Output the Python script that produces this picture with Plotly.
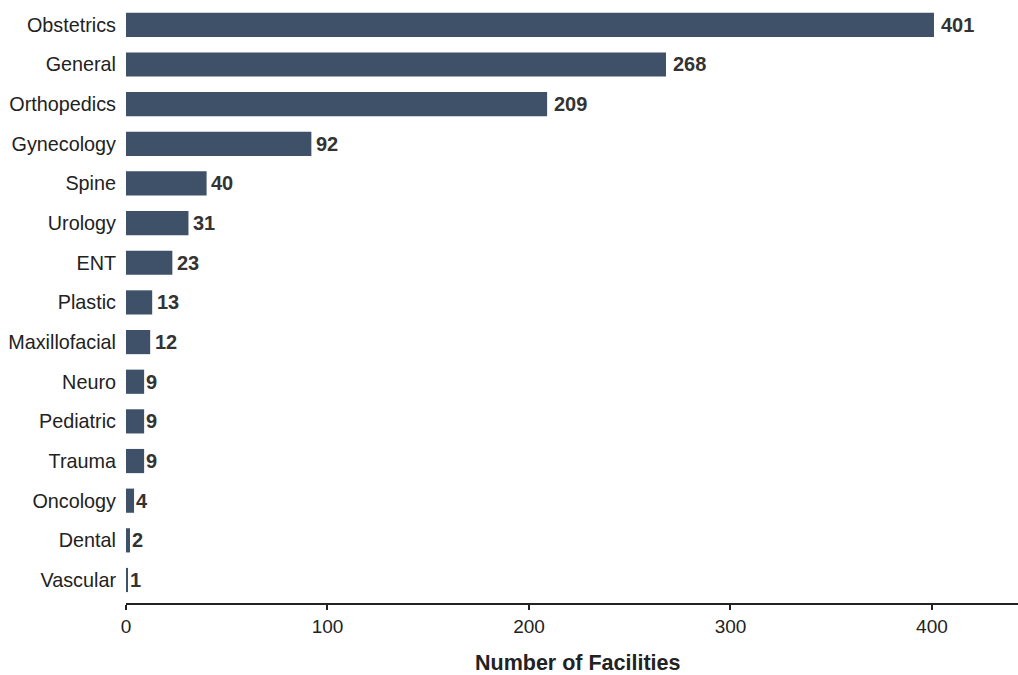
import plotly.graph_objects as go

# Surgical specialties and facility counts
specialties = ["Obstetrics", "General", "Orthopedics", "Gynecology", "Spine", "Urology",
               "ENT", "Plastic", "Maxillofacial", "Neuro", "Pediatric", "Trauma",
               "Oncology", "Dental", "Vascular"]
facilities = [401, 268, 209, 92, 40, 31, 23, 13, 12, 9, 9, 9, 4, 2, 1]

BAR_COLOR = "#3e5168"
TEXT_COLOR = "#222222"
FONT = "Liberation Sans, Arial, sans-serif"
LABEL_SIZE = 20

fig = go.Figure(
    go.Bar(
        x=facilities,
        y=specialties,
        orientation="h",
        marker=dict(color=BAR_COLOR, line=dict(width=0)),
        hoverinfo="x+y",
    )
)

# Value labels at the end of each bar; gap grows with the label's width
for name, val in zip(specialties, facilities):
    text = str(val)
    gap = max(0.0, 0.2 * len(text) * LABEL_SIZE * 0.556 - 2)
    fig.add_annotation(
        x=val, y=name, text=f"<b>{text}</b>", showarrow=False,
        xanchor="left", yanchor="middle", xshift=gap,
        font=dict(family=FONT, size=LABEL_SIZE, color="#333333"),
    )

# Axis title
fig.add_annotation(
    x=0.5, y=0, xref="paper", yref="paper",
    text="<b>Number of Facilities</b>", showarrow=False,
    xanchor="center", yanchor="middle", xshift=6, yshift=-60,
    font=dict(family=FONT, size=21.5, color=TEXT_COLOR),
)

fig.update_layout(
    width=1018, height=675,
    margin=dict(l=126, r=0, t=5, b=72),
    plot_bgcolor="white", paper_bgcolor="white",
    bargap=0.39,
    showlegend=False,
    font=dict(family=FONT, size=19, color=TEXT_COLOR),
    xaxis=dict(
        range=[0, 442.7],
        tickvals=[0, 100, 200, 300, 400],
        showgrid=False, zeroline=False,
        showline=True, linecolor="#222222", linewidth=2,
        ticks="outside", ticklen=5, tickwidth=2, tickcolor="#222222",
        tickfont=dict(size=19, color=TEXT_COLOR),
    ),
    yaxis=dict(
        categoryorder="array", categoryarray=specialties,
        range=[14.58, -0.5],
        showgrid=False, zeroline=False, showline=False,
        ticks="", ticklabelstandoff=9,
        tickfont=dict(size=19.8, color=TEXT_COLOR),
    ),
)

fig.write_html("out.html")
